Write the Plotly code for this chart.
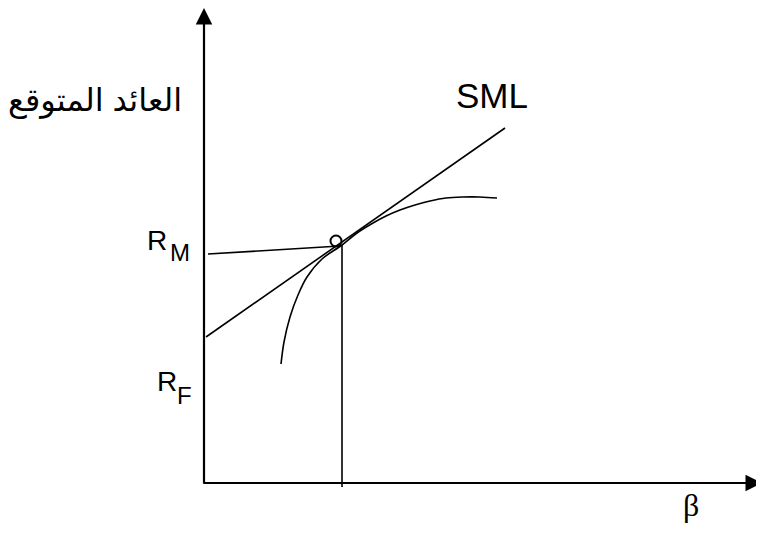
import plotly.graph_objects as go

# Conceptual diagram coordinates (beta on x, expected return on y)
axis_x_end = 5.58
axis_y_end = 4.75

circle_pt = (1.32, 2.42)

flat_x = [0.04, 1.36]
flat_y = [2.29, 2.37]

sml_x = [0.02, 3.01]
sml_y = [1.46, 3.55]

vert_x = [1.38, 1.38]
vert_y = [2.38, -0.04]

curve_x = [0.77, 0.80, 0.86, 0.94, 1.03, 1.18, 1.38, 1.53, 1.69, 1.82, 1.96, 2.11, 2.26, 2.42, 2.59, 2.76, 2.93]
curve_y = [1.19, 1.41, 1.66, 1.88, 2.06, 2.24, 2.38, 2.50, 2.60, 2.67, 2.73, 2.78, 2.82, 2.85, 2.86, 2.86, 2.85]

label_y_title = "العائد المتوقع"
label_sml = "SML"
label_r = "R"
label_m = "M"
label_f = "F"
label_beta = "β"

fig = go.Figure()
lw = 1.6
for xs, ys, shp in [(flat_x, flat_y, "linear"), (sml_x, sml_y, "linear"),
                    (vert_x, vert_y, "linear"), (curve_x, curve_y, "spline")]:
    fig.add_trace(go.Scatter(x=xs, y=ys, mode="lines",
                             line=dict(color="black", width=lw, shape=shp), hoverinfo="skip"))
fig.add_trace(go.Scatter(x=[circle_pt[0]], y=[circle_pt[1]], mode="markers",
                         marker=dict(symbol="circle-open", size=11, color="black", line=dict(width=2)),
                         hoverinfo="skip"))

# axes with arrows
fig.add_annotation(x=0, y=axis_y_end, ax=0, ay=-0.02, xref="x", yref="y", axref="x", ayref="y",
                   showarrow=True, arrowhead=2, arrowsize=1.5, arrowwidth=2.2, arrowcolor="black", text="")
fig.add_annotation(x=axis_x_end, y=0, ax=-0.02, ay=0, xref="x", yref="y", axref="x", ayref="y",
                   showarrow=True, arrowhead=2, arrowsize=1.5, arrowwidth=2.2, arrowcolor="black", text="")

sans = "Liberation Sans, Arial, DejaVu Sans, sans-serif"
def txt(x, y, t, size, fam=sans, xanchor="center"):
    fig.add_annotation(x=x, y=y, text=t, showarrow=False, xref="x", yref="y", xanchor=xanchor,
                       font=dict(family=fam, size=size, color="black"))

txt(-1.09, 3.83, label_y_title, 32)
txt(2.88, 3.88, label_sml, 35)
txt(-0.59, 2.43, label_r, 28, xanchor="left")
txt(-0.36, 2.31, label_m, 24, xanchor="left")
txt(-0.49, 1.02, label_r, 28, xanchor="left")
txt(-0.29, 0.88, label_f, 24, xanchor="left")
txt(4.87, -0.22, label_beta, 32, fam="Liberation Serif, Times New Roman, serif")

# page body has an 8px margin: figure is shrunk and ranges shifted so marks land on the reference pixels
fig.update_layout(
    width=756, height=527,
    margin=dict(l=0, r=0, t=0, b=0),
    paper_bgcolor="white", plot_bgcolor="white",
    showlegend=False,
    xaxis=dict(range=[-1.96, 5.60], visible=False, fixedrange=True),
    yaxis=dict(range=[-0.52, 4.75], visible=False, fixedrange=True),
)
fig.write_html("out.html")
